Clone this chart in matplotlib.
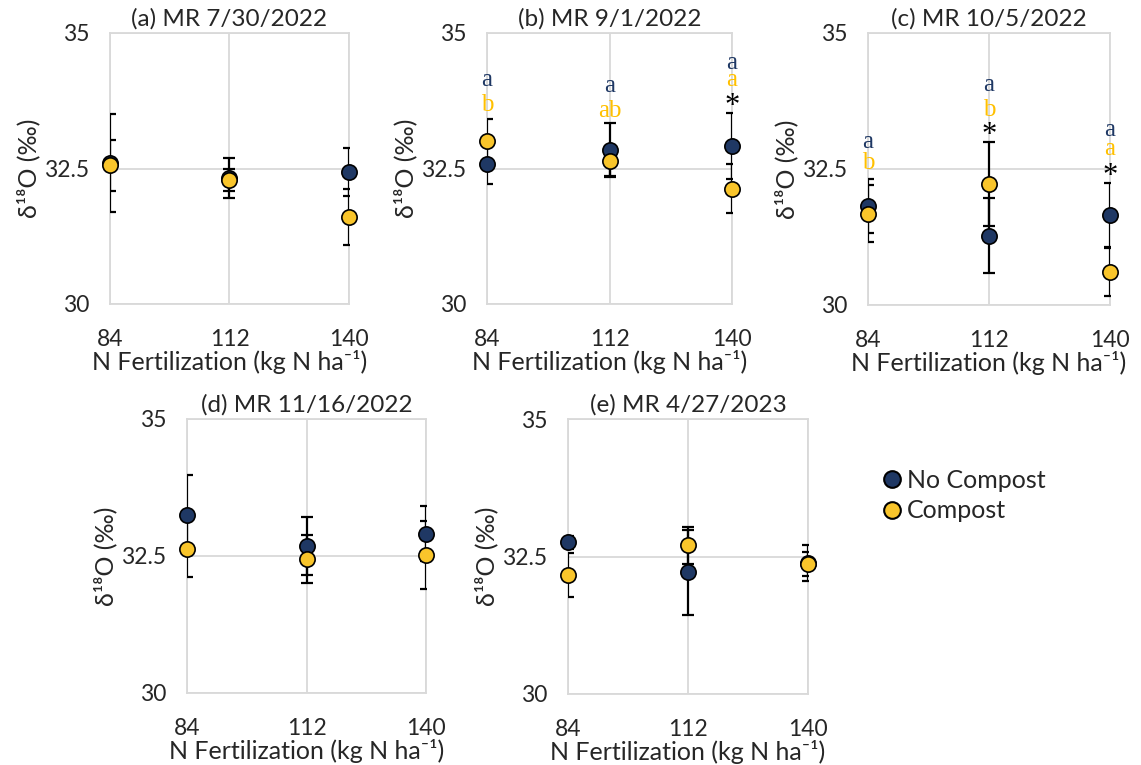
import matplotlib
matplotlib.use("Agg")
import matplotlib.pyplot as plt
from matplotlib.lines import Line2D

# ---------------- data ----------------
n_rates = [84, 112, 140]
y_ticks = [30, 32.5, 35]
y_tick_labels = ["30", "32.5", "35"]

titles = ["(a) MR 7/30/2022", "(b) MR 9/1/2022", "(c) MR 10/5/2022",
          "(d) MR 11/16/2022", "(e) MR 4/27/2023"]

no_compost_a = [32.60, 32.32, 32.44]
no_compost_a_err = [0.90, 0.37, 0.44]
compost_a = [32.56, 32.29, 31.61]
compost_a_err = [0.47, 0.20, 0.52]

no_compost_b = [32.58, 32.85, 32.91]
no_compost_b_err = [0.37, 0.49, 0.61]
compost_b = [33.00, 32.63, 32.13]
compost_b_err = [0.42, 0.28, 0.46]

no_compost_c = [31.82, 31.27, 31.66]
no_compost_c_err = [0.50, 0.69, 0.59]
compost_c = [31.68, 32.22, 30.61]
compost_c_err = [0.52, 0.77, 0.44]

no_compost_d = [33.25, 32.69, 32.91]
no_compost_d_err = [0.73, 0.53, 0.51]
compost_d = [32.63, 32.45, 32.52]
compost_d_err = [0.52, 0.44, 0.62]

no_compost_e = [32.76, 32.21, 32.38]
no_compost_e_err = [0.12, 0.78, 0.33]
compost_e = [32.16, 32.70, 32.36]
compost_e_err = [0.40, 0.33, 0.22]

# significance letters: (N rate, y position, text, group) ; group: 0 no compost, 1 compost, 2 asterisk
letters_b = [(84, 34.02, "a", 0), (84, 33.56, "b", 1),
             (112, 33.91, "a", 0), (112, 33.45, "ab", 1),
             (140, 34.34, "a", 0), (140, 34.02, "a", 1), (140, 33.50, "*", 2)]
letters_c = [(84, 32.88, "a", 0), (84, 32.50, "b", 1),
             (112, 33.93, "a", 0), (112, 33.48, "b", 1), (112, 32.97, "*", 2),
             (140, 33.10, "a", 0), (140, 32.75, "a", 1), (140, 32.23, "*", 2)]

series_labels = ["No Compost", "Compost"]

# ---------------- style ----------------
NAVY = "#1F3864"
GOLD = "#F9C52B"
GOLD_TXT = "#FFC000"
GRID = "#d9d9d9"
TXT = "#262626"
SANS = ["Lato", "DejaVu Sans"]
SERIF = ["Liberation Serif", "DejaVu Serif"]
letter_colors = [NAVY, GOLD_TXT, "black"]
letter_sizes = [18, 18, 22]

W, H = 1141, 765
fig = plt.figure(figsize=(W / 100, H / 100), dpi=100)
fig.patch.set_facecolor("white")


def px_axes(l, t, r, b):
    return fig.add_axes([l / W, 1 - b / H, (r - l) / W, (b - t) / H])


boxes = [(110, 33, 349, 304), (487, 33, 732, 304), (868, 33, 1110, 305),
         (187, 419, 426, 693), (568, 419, 808, 694)]
data = [
    (no_compost_a, no_compost_a_err, compost_a, compost_a_err, []),
    (no_compost_b, no_compost_b_err, compost_b, compost_b_err, letters_b),
    (no_compost_c, no_compost_c_err, compost_c, compost_c_err, letters_c),
    (no_compost_d, no_compost_d_err, compost_d, compost_d_err, []),
    (no_compost_e, no_compost_e_err, compost_e, compost_e_err, []),
]

for box, title, (nc, nce, cp, cpe, letters) in zip(boxes, titles, data):
    ax = px_axes(*box)
    wpx = box[2] - box[0]
    hpx = box[3] - box[1]
    ax.set_xlim(84, 140)
    ax.set_ylim(30, 35)
    ax.set_xticks(n_rates)
    ax.set_xticklabels([str(v) for v in n_rates], family=SANS)
    ax.set_yticks(y_ticks)
    ax.set_yticklabels(y_tick_labels, family=SANS)
    ax.tick_params(length=0, labelsize=16.5, colors=TXT)
    ax.tick_params(axis="x", pad=18)
    ax.tick_params(axis="y", pad=15)
    ax.grid(True, color=GRID, lw=1.3)
    ax.set_axisbelow(True)
    for sp in ax.spines.values():
        sp.set_color(GRID)
        sp.set_linewidth(1.3)

    for vals, errs, col, z in ((nc, nce, NAVY, 4), (cp, cpe, GOLD, 5)):
        ax.errorbar(n_rates, vals, yerr=errs, fmt="none", ecolor="black",
                    elinewidth=1.6, capsize=4.5, capthick=1.6, zorder=3)
        ax.plot(n_rates, vals, "o", ms=11, mfc=col, mec="black", mew=1.2,
                clip_on=False, zorder=z)

    for xv, yv, txt, grp in letters:
        ax.text(xv, yv, txt, ha="center", va="baseline",
                fontsize=letter_sizes[grp], family=SERIF,
                color=letter_colors[grp], clip_on=False, zorder=6)

    ax.set_title(title, fontsize=17.5, family=SANS, pad=5, color=TXT)
    ax.set_xlabel("N Fertilization (kg N ha\u207b\u00b9)", fontsize=18,
                  family=SANS, color=TXT, va="center")
    ax.xaxis.set_label_coords(0.5, -58 / hpx)
    ax.set_ylabel("\u03b4\u00b9\u2078O (\u2030)", fontsize=18, family=SANS,
                  color=TXT, va="center")
    ax.yaxis.set_label_coords(-82 / wpx, 0.5)

handles = [Line2D([], [], marker="o", ls="none", ms=12, mfc=NAVY, mec="black",
                  mew=1.5, label=series_labels[0]),
           Line2D([], [], marker="o", ls="none", ms=12, mfc=GOLD, mec="black",
                  mew=1.5, label=series_labels[1])]
fig.legend(handles=handles, loc="upper left",
           bbox_to_anchor=(884.5 / W, 1 - 469 / H), frameon=False,
           prop={"family": SANS, "size": 18}, handlelength=0.6,
           handletextpad=0.3, labelspacing=0.3, borderpad=0, borderaxespad=0,
           labelcolor=TXT)

fig.savefig("out.png", dpi=100, facecolor="white")
